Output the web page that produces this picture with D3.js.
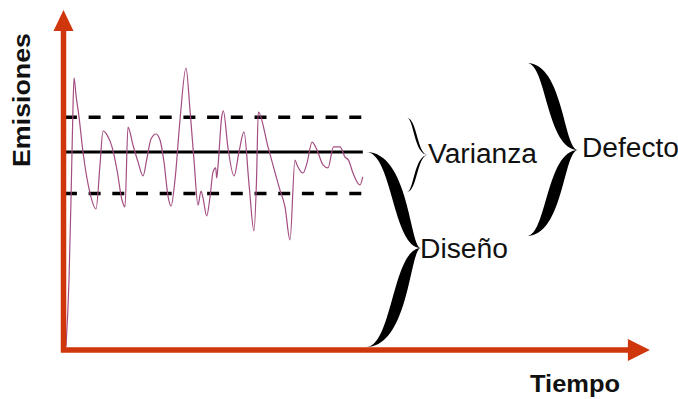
<!DOCTYPE html>
<html>
<head>
<meta charset="utf-8">
<script src="https://cdn.jsdelivr.net/npm/d3@7/dist/d3.min.js"></script>
<style>
  html, body { margin: 0; padding: 0; background: #fff; }
  svg { display: block; }
</style>
</head>
<body>
<svg id="chart" width="678" height="399"></svg>
<script>
// ---- data (time units, emission units) ----
const time = [0.67,1.67,2.33,2.83,3.33,4.0,5.0,6.33,8.67,10.67,12,13,14.33,16,17.67,19.33,20.33,21.33,23,24.67,26.33,27.67,29,30.67,32,33.33,34.67,35.67,37,38.67,40.67,42,43.33,44.67,45.67,46.33,47.57,48.67,49.67,50.57,50.9,51.33,52.57,53.1,54.67,56.67,58.33,60,61.67,63.33,64.17,64.77,68,72,73.67,75.33,77,77.67,79.67,81,82.67,84.33,86.33,88,89.83,92,93.67,94.83,96.33,98.67,99.57];
const emissions = [1.3,23.3,50,73.3,90.7,85,77.7,66,52.3,47,61.7,73,71.7,67.7,60,50,47.7,74.3,68.3,62.7,58,64,70.3,72,70,62.7,51.3,48,56.7,76.7,94,80,63.3,48.3,53,50.7,44.7,51,59.3,60.7,57.3,61.3,77.7,79.7,67.3,58,66,72.7,55.3,39.7,56.7,79.3,67.7,53.3,47.7,36.7,63.3,61.7,59,62.3,69.3,66.7,61.7,60.7,67.7,67.7,64.3,63.3,59,55,57.7];
const meanLevel = 66;
const upperLimit = 77.6;
const lowerLimit = 52.2;
const xLabel = "Tiempo";
const yLabel = "Emisiones";
const braceLabels = ["Varianza", "Diseño", "Defecto"];

// ---- scales ----
const svg = d3.select("#chart");
const x = d3.scaleLinear().domain([0, 100]).range([64, 364]);
const y = d3.scaleLinear().domain([0, 100]).range([350, 50]);
const axisColor = "#d0360c";

// ---- reference lines ----
const xEnd = 99.6;
svg.append("line").attr("x1", x(-0.3)).attr("x2", x(xEnd)).attr("y1", y(meanLevel)).attr("y2", y(meanLevel))
  .attr("stroke", "#000").attr("stroke-width", 3.2);
[upperLimit, lowerLimit].forEach(v => {
  svg.append("line").attr("x1", x(0.3)).attr("x2", x(xEnd)).attr("y1", y(v)).attr("y2", y(v))
    .attr("stroke", "#000").attr("stroke-width", 3.5).attr("stroke-dasharray", "12,11.7");
});

// ---- data line ----
const pts = time.map((t, i) => [t, emissions[i]]);
svg.append("path").datum(pts)
  .attr("fill", "none").attr("stroke", "#a34c80").attr("stroke-width", 1.2)
  .attr("d", d3.line().x(d => x(d[0])).y(d => y(d[1])).curve(d3.curveMonotoneX));

// ---- axes (arrows) ----
const yTop = 113.3, xTip = 195.3;
svg.append("path")
  .attr("d", `M${x(0)-0.5},${y(yTop)+20} L${x(0)-0.5},${y(0)} L${x(xTip)-21},${y(0)}`)
  .attr("fill", "none").attr("stroke", axisColor).attr("stroke-width", 5.5).attr("stroke-linejoin", "miter");
svg.append("path")
  .attr("d", `M${x(0)-0.5},${y(yTop)} L${x(0)-10.5},${y(yTop)+21} L${x(0)+9.5},${y(yTop)+21} Z`)
  .attr("fill", axisColor);
svg.append("path")
  .attr("d", `M${x(xTip)},${y(0)} L${x(xTip)-22},${y(0)-11} L${x(xTip)-22},${y(0)+11} Z`)
  .attr("fill", axisColor);

// ---- axis labels ----
svg.append("text").text(xLabel)
  .attr("x", 530).attr("y", 392)
  .attr("font-family", "Liberation Sans, Arial, sans-serif").attr("font-weight", "bold")
  .attr("font-size", 23).attr("textLength", 90).attr("lengthAdjust", "spacingAndGlyphs").attr("fill", "#111");
svg.append("text").text(yLabel)
  .attr("transform", "translate(30,167) rotate(-90)")
  .attr("font-family", "Liberation Sans, Arial, sans-serif").attr("font-weight", "bold")
  .attr("font-size", 23).attr("textLength", 134).attr("lengthAdjust", "spacingAndGlyphs").attr("fill", "#111");

// ---- braces ----
function brace(xL, yT, yM, yB, xT, xM, d) {
  return `M${xL},${yT} C${xM + d},${yT} ${xM + d},${yM} ${xT},${yM}` +
         ` C${xM + d},${yM} ${xM + d},${yB} ${xL},${yB}` +
         ` C${xM - d},${yB} ${xM - d},${yM} ${xT},${yM}` +
         ` C${xM - d},${yM} ${xM - d},${yT} ${xL},${yT} Z`;
}
svg.append("path").attr("d", brace(407, 118, 155, 192, 428, 415.5, 1.6)).attr("fill", "#000");
svg.append("path").attr("d", brace(366, 152, 248, 347, 421, 401, 8.5)).attr("fill", "#000");
svg.append("path").attr("d", brace(527, 63, 150, 236, 578, 555, 8.5)).attr("fill", "#000");

// ---- brace labels ----
const lbl = [
  {t: braceLabels[0], x: 428, y: 163, w: 109},
  {t: braceLabels[1], x: 420, y: 258, w: 88},
  {t: braceLabels[2], x: 582, y: 157, w: 97}
];
lbl.forEach(l => {
  svg.append("text").text(l.t).attr("x", l.x).attr("y", l.y)
    .attr("font-family", "Liberation Sans, Arial, sans-serif").attr("font-size", 27)
    .attr("textLength", l.w).attr("lengthAdjust", "spacingAndGlyphs").attr("fill", "#111");
});
</script>
</body>
</html>
